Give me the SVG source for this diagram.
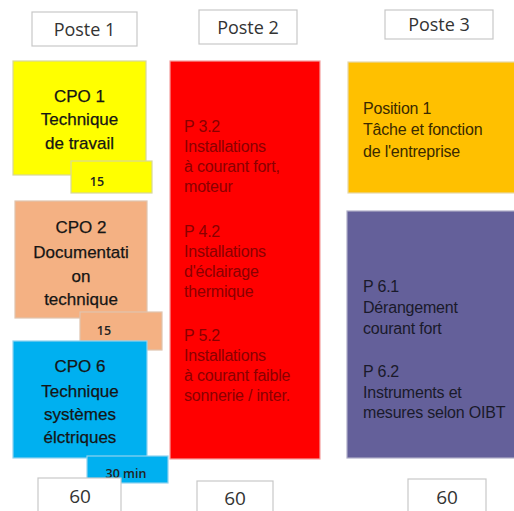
<svg xmlns="http://www.w3.org/2000/svg" width="514" height="511" viewBox="0 0 514 511">
<style>
.lbl{fill:#fff;stroke:#c8c8c8;stroke-width:1.2}
.hd{font-family:"Open Sans","Liberation Sans",sans-serif;font-size:18px;fill:#333;text-anchor:middle}
.cpo{font-family:"Liberation Sans",Arial,sans-serif;font-size:17px;fill:#151515;text-anchor:middle;stroke:#151515;stroke-width:0.25}
.sm{font-family:"Open Sans","Liberation Sans",sans-serif;font-size:12.5px;font-weight:600;fill:#222;text-anchor:middle}
.tx{font-family:"Liberation Sans",Arial,sans-serif;font-size:16px;letter-spacing:-0.2px}
.num{font-family:"Open Sans","Liberation Sans",sans-serif;font-size:19px;fill:#333;text-anchor:middle}
</style>
<rect width="514" height="511" fill="#fff"/>
<g id="poste1"><rect class="lbl" x="32" y="12" width="105" height="34"/><text class="hd" x="84.5" y="36">Poste 1</text></g>
<g id="poste2"><rect class="lbl" x="199" y="10" width="98" height="34"/><text class="hd" x="248" y="34">Poste 2</text></g>
<g id="poste3"><rect class="lbl" x="385" y="10" width="108" height="29"/><text class="hd" x="439" y="31">Poste 3</text></g>

<g id="cpo1">
<rect x="13" y="61" width="133" height="114" fill="#FFFF00" stroke="#d8d89a" stroke-width="1.2"/>
<text class="cpo" x="79.5" y="102">CPO 1</text>
<text class="cpo" x="79.5" y="125">Technique</text>
<text class="cpo" x="79.5" y="149">de travail</text>
<rect x="71" y="161" width="81" height="32" fill="#FFFF00" stroke="#d8d89a" stroke-width="1.2"/>
<text class="sm" x="97" y="186">15</text>
</g>
<g id="cpo2">
<rect x="15" y="201" width="132" height="117" fill="#F4B183" stroke="#e0c4ae" stroke-width="1.2"/>
<text class="cpo" x="81" y="233">CPO 2</text>
<text class="cpo" x="81" y="258">Documentati</text>
<text class="cpo" x="81" y="282">on</text>
<text class="cpo" x="81" y="305">technique</text>
<rect x="80" y="312" width="82" height="38" fill="#F4B183" stroke="#e0c4ae" stroke-width="1.2"/>
<text class="sm" x="104" y="335">15</text>
</g>
<g id="cpo6">
<rect x="13" y="341" width="134" height="117" fill="#00B0F0" stroke="#8fd3ee" stroke-width="1.2"/>
<text class="cpo" x="80" y="372">CPO 6</text>
<text class="cpo" x="80" y="397">Technique</text>
<text class="cpo" x="80" y="420">systèmes</text>
<text class="cpo" x="80" y="443">élctriques</text>
<rect x="87" y="456" width="81" height="27" fill="#00B0F0" stroke="#8fd3ee" stroke-width="1.2"/>
<text class="sm" x="126" y="478">30 min</text>
</g>
<g id="total1"><rect class="lbl" x="38" y="478" width="83" height="34"/><text class="num" x="80" y="503">60</text></g>

<g id="poste2-bloc">
<rect x="170" y="61" width="150" height="398" fill="#FF0000" stroke="#f3a0a0" stroke-width="1.2"/>
<g class="tx" fill="#8a0000">
<text x="184" y="132">P 3.2</text>
<text x="184" y="152">Installations</text>
<text x="184" y="172">à courant fort,</text>
<text x="184" y="192">moteur</text>
<text x="184" y="237">P 4.2</text>
<text x="184" y="257">Installations</text>
<text x="184" y="277">d'éclairage</text>
<text x="184" y="297">thermique</text>
<text x="184" y="341">P 5.2</text>
<text x="184" y="361">Installations</text>
<text x="184" y="381"> à courant faible</text>
<text x="184" y="401">sonnerie / inter.</text>
</g>
</g>
<g id="total2"><rect class="lbl" x="197" y="481" width="76" height="32"/><text class="num" x="235" y="505">60</text></g>

<g id="position1">
<rect x="348" y="62" width="168" height="131" fill="#FFC000" stroke="#e6d8a8" stroke-width="1.2"/>
<g class="tx" fill="#3a2a00">
<text x="363" y="114">Position 1</text>
<text x="363" y="135">Tâche et fonction</text>
<text x="363" y="157">de l'entreprise</text>
</g>
</g>
<g id="poste3-bloc">
<rect x="347" y="211" width="169" height="247" fill="#64609A" stroke="#b0aec8" stroke-width="1.2"/>
<g class="tx" fill="#1a1a2a">
<text x="363" y="292">P 6.1</text>
<text x="363" y="313">Dérangement</text>
<text x="363" y="334">courant fort</text>
<text x="363" y="377">P 6.2</text>
<text x="363" y="398">Instruments et</text>
<text x="363" y="418">mesures selon OIBT</text>
</g>
</g>
<g id="total3"><rect class="lbl" x="408" y="479" width="78" height="34"/><text class="num" x="447" y="504">60</text></g>
<g id="connectors"/>
</svg>
